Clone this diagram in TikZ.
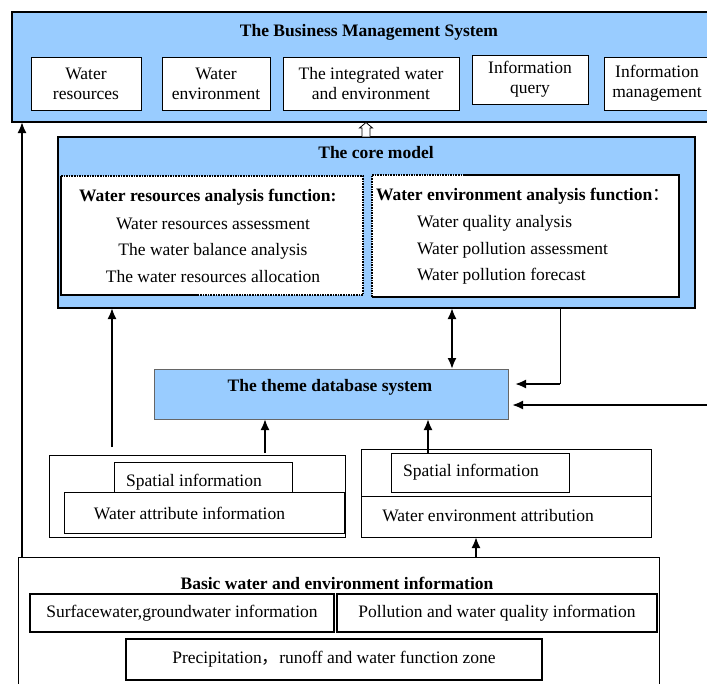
\documentclass[tikz,border=0pt]{standalone}
\usepackage{fontspec}
\setmainfont{Liberation Serif}
\newfontfamily\cjk{Noto Sans CJK SC}
\usetikzlibrary{arrows.meta}
\definecolor{lblue}{HTML}{99CCFF}
\newcommand\fs{\fontsize{17.5}{20}\selectfont}
\begin{document}
\begin{tikzpicture}[x=1pt,y=-1pt,
  every node/.style={font=\fs, inner sep=0pt, outer sep=0pt},
  ttl/.style={font=\fs\bfseries},
  bx/.style={draw, line width=0.8pt, fill=white, align=center},
  thk/.style={draw, line width=1.6pt, fill=white, align=center},
  arr/.style={line width=2pt, -{Latex[length=11pt,width=9pt]}},
  darr/.style={line width=2pt, {Latex[length=11pt,width=9pt]}-{Latex[length=11pt,width=9pt]}}
]
\useasboundingbox (0,0) rectangle (707,683);
\clip (0,0) rectangle (707,683);

% Business management system
\node[draw, line width=2pt, fill=lblue, minimum width=712pt, minimum height=110pt] (bms) at (368,67) {};
\node[ttl] (bmst) at (369,32) {The Business Management System};
\node[bx, minimum width=110pt, minimum height=53pt] (b1) at (86,83.5) {Water\\resources};
\node[bx, minimum width=108pt, minimum height=53pt] (b2) at (216,83.5) {Water\\environment};
\node[bx, minimum width=176pt, minimum height=53pt] (b3) at (371,83.5) {The integrated water\\and environment};
\node[bx, minimum width=116pt, minimum height=49pt] (b4) at (530,79.5) {Information\\query};
\node[bx, minimum width=106pt, minimum height=53pt] (b5) at (657,83.5) {Information\\management};

% core model
\node[draw, line width=2.5pt, fill=lblue, minimum width=637pt, minimum height=171pt] (core) at (376.5,222.5) {};
\node[ttl] (coret) at (376,153) {The core model};
\node[fill=white, minimum width=302pt, minimum height=119pt] (lf) at (212,235.5) {};
\draw[line width=1.8pt] (lf.north west) -- (lf.south west) -- ++(135,0);
\draw[line width=1.6pt, densely dotted] (lf.north west) -- (lf.north east) -- (lf.south east) -- ++(-167,0);
\node[fill=white, minimum width=307pt, minimum height=122pt] (rf) at (525.5,236) {};
\draw[line width=1.6pt, densely dotted] (rf.south west) -- (rf.north west) -- ++(93,0);
\draw[line width=1.8pt] (rf.north west) ++(93,0) -- (rf.north east) -- (rf.south east) -- (rf.south west);
\node[ttl, anchor=west] (lft) at (79,197) {Water resources analysis function:};
\node (l1) at (213,224) {Water resources assessment};
\node (l2) at (213,251) {The water balance analysis};
\node (l3) at (213,277) {The water resources allocation};
\node[ttl, anchor=west] (rft) at (376,196) {Water environment analysis function{\cjk\mdseries ：}};
\node[anchor=west] (r1) at (417,223) {Water quality analysis};
\node[anchor=west] (r2) at (417,250) {Water pollution assessment};
\node[anchor=west] (r3) at (417,276) {Water pollution forecast};

% hollow arrow core -> bms
\draw[fill=white, line width=0.8pt] (362,136.5) -- (362,128) -- (359.5,128) -- (366,122.5) -- (372.5,128) -- (370,128) -- (370,136.5);

% theme database
\node[draw=black!60, line width=0.7pt, fill=lblue, minimum width=354pt, minimum height=50pt] (theme) at (331,394) {};
\node[ttl] (themet) at (330,387) {The theme database system};

% left information group
\node[draw, line width=0.7pt, minimum width=296pt, minimum height=82pt] (lg) at (197,496) {};
\node[draw, line width=0.7pt, fill=white, minimum width=178pt, minimum height=38pt] (ls) at (203,481) {};
\node[draw, line width=0.7pt, fill=white, minimum width=280pt, minimum height=41pt] (lw) at (204,512.5) {};
\node (lst) at (194,482) {Spatial information};
\node (lwt) at (189.5,513) {Water attribute information};

% right information group
\node[draw, line width=0.7pt, minimum width=290pt, minimum height=88pt] (rg) at (506,493) {};
\node[draw, line width=0.7pt, minimum width=290pt, minimum height=41pt] (rwa) at (506,516.5) {};
\node[draw, line width=0.7pt, fill=white, minimum width=178pt, minimum height=39pt] (rs) at (480,472.5) {};
\node (rst) at (471,472) {Spatial information};
\node (rwat) at (488,516) {Water environment attribution};

% basic information
\node[draw, line width=0.7pt, minimum width=641pt, minimum height=143pt] (basic) at (338.5,628.5) {};
\node[ttl] (basict) at (337,583) {Basic water and environment information};
\node[thk, minimum width=304pt, minimum height=38pt] (sg) at (182,613) {Surfacewater,groundwater information};
\node[thk, minimum width=320pt, minimum height=38pt] (pq) at (497,613) {Pollution and water quality information};
\node[thk, minimum width=416pt, minimum height=41pt] (pr) at (334,659.5) {Precipitation{\cjk ，}runoff and water function zone};

% connectors
\coordinate (x22) at (22,0);
\coordinate (x112) at (112,0);
\coordinate (x265) at (265,0);
\coordinate (x428) at (428,0);
\coordinate (x452) at (452,0);
\coordinate (x476) at (476,0);
\coordinate (x560) at (560,0);
\coordinate (k1) at (560,384);
\coordinate (k2) at (515,384);
\coordinate (e0) at (712,405);
\coordinate (e1) at (512,405);
\coordinate (s112) at (112,447);
\coordinate (s265) at (265,453);

\draw[darr] (core.south -| x452) -- (theme.north -| x452);
\draw[line width=0.8pt] (core.south -| x560) -- (k1);
\draw[arr] (k1) -- (k2);
\draw[arr] (e0) -- (e1);
\draw[arr] (s112) -- (core.south -| x112);
\draw[arr] (s265) -- (theme.south -| x265);
\draw[arr] (rs.north -| x428) -- (theme.south -| x428);
\draw[arr] (basic.north -| x22) -- (bms.south -| x22);
\draw[arr] (basic.north -| x476) -- (rwa.south -| x476);
\end{tikzpicture}
\end{document}
